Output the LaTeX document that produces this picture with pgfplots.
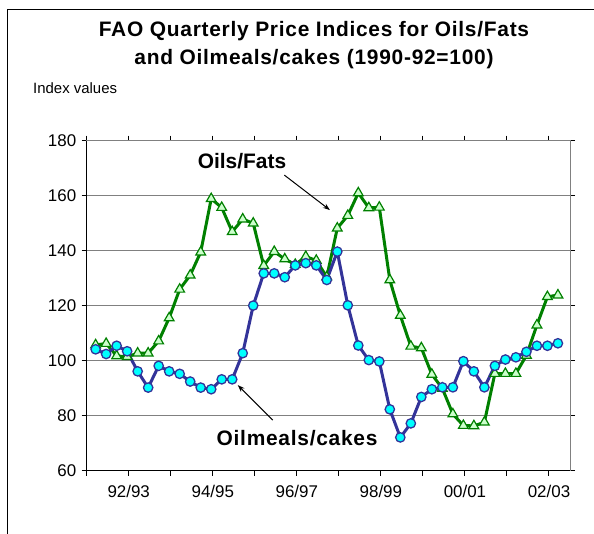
\documentclass[border=0pt]{standalone}
\usepackage{fontspec}
\setmainfont{Liberation Sans}
\newfontfamily\spacedbold[LetterSpace=3.5]{Liberation Sans Bold}
\usepackage{pgfplots}
\usepackage{pgfplotstable}
\pgfplotsset{compat=1.18}
\usetikzlibrary{arrows.meta,calc}
\definecolor{navy}{HTML}{333399}
\definecolor{oilgreen}{HTML}{008000}
\definecolor{lightgreen}{HTML}{CCFFCC}
\definecolor{cyanfill}{HTML}{00FFFF}
\definecolor{gridgray}{HTML}{808080}

\pgfplotstableread{
x v
0.85 105.8
1.85 106.3
2.85 101.8
3.85 101.5
4.85 102.8
5.85 102.8
6.85 107.2
7.85 115.6
8.85 126.0
9.85 131.1
10.85 139.5
11.85 158.9
12.85 155.7
13.85 146.9
14.85 151.5
15.85 150.0
16.85 134.6
17.85 139.7
18.85 137.0
19.85 135.0
20.85 137.9
21.85 136.5
22.85 130.5
23.85 148.2
24.85 152.8
25.85 161.0
26.85 155.6
27.85 155.8
28.85 129.4
29.85 116.5
30.85 105.3
31.85 104.7
32.85 95.1
33.85 90.0
34.85 80.7
35.85 76.5
36.85 76.4
37.85 77.7
38.85 95.4
39.85 95.4
40.85 95.4
41.85 102.0
42.85 113.0
43.85 123.3
44.85 123.9
}\oils

\pgfplotstableread{
x v
0.85 104.2
1.85 102.5
2.85 105.5
3.85 103.5
4.85 96.2
5.85 90.3
6.85 98.2
7.85 96.2
8.85 95.3
9.85 92.5
10.85 90.3
11.85 89.7
12.85 93.3
13.85 93.3
14.85 102.8
15.85 120.1
16.85 131.8
17.85 131.8
18.85 130.4
19.85 134.7
20.85 135.5
21.85 134.7
22.85 129.4
23.85 139.7
24.85 120.2
25.85 105.6
26.85 100.3
27.85 99.8
28.85 82.4
29.85 72.2
30.85 77.3
31.85 86.9
32.85 89.7
33.85 90.4
34.85 90.4
35.85 99.9
36.85 96.2
37.85 90.4
38.85 98.2
39.85 100.5
40.85 101.3
41.85 103.3
42.85 105.5
43.85 105.5
44.85 106.4
}\meals

\begin{document}
\begin{tikzpicture}
\begin{axis}[
  width=483.3bp, height=330.3bp, scale only axis,
  xmin=0, xmax=46, ymin=60, ymax=180,
  xtick={0,4,...,44},
  xticklabels={,92/93,,94/95,,96/97,,98/99,,00/01,,02/03},
  ytick={60,80,...,180},
  tick align=outside,
  major tick length=5bp,
  tick style={black, line width=1bp},
  axis line style={gridgray, line width=1bp},
  ymajorgrids,
  grid style={gridgray, line width=1bp},
  /pgf/number format/assume math mode=true,
  ticklabel style={font=\fontsize{17}{20}\selectfont},
  yticklabel style={xshift=-2bp},
  xticklabel style={yshift=-6bp},
  clip=false,
]
\addplot[oilgreen, line width=3bp, mark=triangle*, mark size=5.6bp,
  mark options={fill=lightgreen, draw=oilgreen, line width=1.2bp, solid}]
  table[x=x, y=v] {\oils};
\addplot[navy, line width=3bp, mark=*, mark size=4.7bp,
  mark options={fill=cyanfill, draw=navy, line width=1.3bp, solid}]
  table[x=x, y=v] {\meals};
\draw[black, line width=1bp] (rel axis cs:0,1) -- (rel axis cs:0,0) -- (rel axis cs:1,0);
\node[font=\bfseries\fontsize{21}{25}\selectfont] at (axis cs:14.78,172.4) {Oils/Fats};
\draw[-{Stealth[length=7bp,width=5bp]}, black, line width=1bp] (axis cs:18.81,167.5) -- (axis cs:23.15,154.8);
\node[font=\spacedbold\fontsize{21}{25}\selectfont] at (axis cs:20.02,71.9) {Oilmeals/cakes};
\draw[-{Stealth[length=7bp,width=5bp]}, black, line width=1bp] (axis cs:17.71,78.5) -- (axis cs:14.38,91.2);
\coordinate (O) at (rel axis cs:0,0);
\end{axis}
\begin{scope}[shift={($(O)+(-86.7bp,-63bp)$)}, x=1bp, y=1bp]
\draw[black, line width=1bp] (8,0) -- (8,524) -- (594,524);
\node[anchor=base, font=\spacedbold\fontsize{21}{25}\selectfont] at (314,497.3) {FAO Quarterly Price Indices for Oils/Fats};
\node[anchor=base, font=\spacedbold\fontsize{21}{25}\selectfont] at (314,469) {and Oilmeals/cakes (1990-92=100)};
\node[anchor=base west, inner sep=0pt, font=\fontsize{15}{18}\selectfont] at (33,440.5) {Index values};
\pgfresetboundingbox
\useasboundingbox (0,0) rectangle (594,534);
\end{scope}
\end{tikzpicture}
\end{document}
